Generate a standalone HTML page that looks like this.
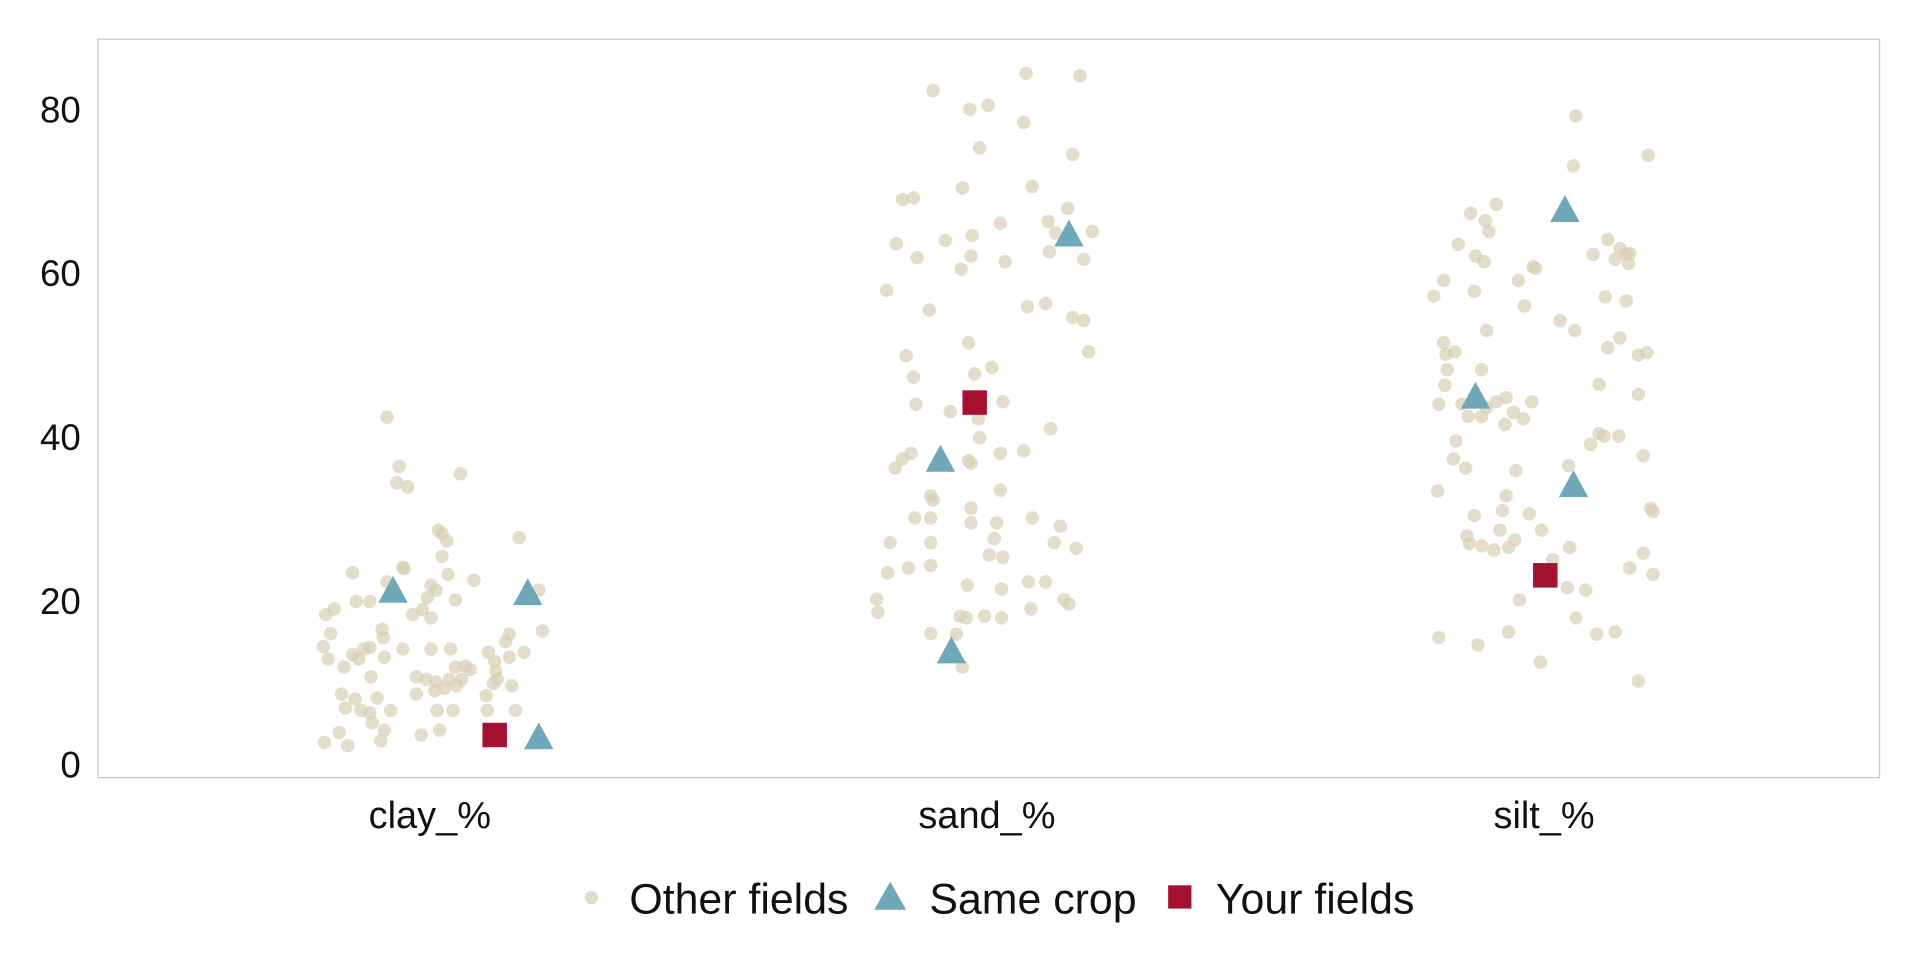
<!DOCTYPE html>
<html><head><meta charset="utf-8"><style>
html,body{margin:0;padding:0;background:#fff;}
svg{display:block;font-family:"Liberation Sans",sans-serif;}
</style></head><body>
<svg id="chart" width="1920" height="960" viewBox="0 0 1568 784" xmlns="http://www.w3.org/2000/svg">
<rect x="80" y="32" width="1455" height="603" fill="#fff" stroke="#c8c8c8" stroke-width="1"/>
<g id="yaxis"></g>
<g id="xaxis"></g>
<g id="marks"></g>
<g>
  <g>
    <circle cx="483" cy="733" r="5.5" fill="#d9cfb3" opacity="0.7"/>
    <text x="514" y="746" font-size="35" fill="#111">Other fields</text>
  </g>
  <g>
    <polygon points="727,720 740,743 714,743" fill="#6fa8b8"/>
    <text x="759" y="746" font-size="35" fill="#111">Same crop</text>
  </g>
  <g>
    <rect x="954" y="723" width="19" height="19" fill="#a51230"/>
    <text x="993" y="746" font-size="35" fill="#111">Your fields</text>
  </g>
</g>
</svg>
<script>
const categories = ["clay_%","sand_%","silt_%"];
const yTicks = [0,20,40,60,80];
// [jitter offset, value]
const otherClay = [[-85,18.4],[-78,19.1],[-81,16.1],[-87,14.5],[-83,13],[-70,12],[-63,13.5],[-58,13],[-54,14.2],[-49,14.4],[-38,15.6],[-39,16.6],[-60,20],[-49,20],[-35,22.4],[-21,24],[-14,18.4],[-6,19],[1,18],[-2,20.5],[5,21.4],[1,22],[21,20.2],[17,14.2],[1,14.2],[-22,14.2],[-37,13.2],[-48,10.8],[-72,8.7],[-61,8.1],[-43,8.2],[-69,7],[-56,6.7],[-49,6.4],[-32,6.7],[-47,5.2],[-37,4.3],[-74,4],[-86,2.8],[-67,2.4],[-40,3],[-7,3.7],[8,4.3],[-11,8.7],[6,6.7],[19,6.7],[22,9.7],[-11,10.8],[-3,10.5],[5,10.2],[12,9.4],[16,10.5],[26,10.5],[29,12.1],[33,11.7],[21,12],[4,9.1],[54,11.5],[52,10],[55,10.5],[47,6.7],[46,8.5],[67,9.7],[70,6.7],[48,13.8],[62,15.1],[65,16],[77,13.8],[92,16.4],[89,21.4],[65,13.2],[53,12.7],[-35,42.5],[-25,36.5],[-27,34.5],[-18,34],[25,35.6],[7,28.7],[10,28.3],[14,27.4],[73,27.8],[-22,24.2],[10,25.5],[15,23.3],[-63,23.5],[36,22.6]];
const otherSand = [[32,84.5],[76,84.2],[-44,82.4],[1,80.6],[-14,80.1],[30,78.5],[-6,75.4],[70,74.6],[-20,70.5],[37,70.7],[-69,69.1],[-60,69.3],[11,66.2],[50,66.4],[66,68],[86,65.2],[-74,63.7],[-34,64.1],[-12,64.7],[56,65],[51,62.7],[-57,62],[-13,62.2],[15,61.5],[79,61.8],[-21,60.6],[-82,58],[-47,55.6],[33,56],[48,56.4],[70,54.7],[79,54.3],[-66,50],[-15,51.6],[83,50.5],[-60,47.4],[-10,47.8],[4,48.6],[-58,44.1],[13,44.4],[-30,43.2],[-7,42.3],[52,41.1],[-6,40],[-62,38.1],[-69,37.4],[-75,36.3],[11,38.1],[30,38.4],[-15,37.2],[-13,36.9],[11,33.6],[-46,32.9],[-44,32.4],[-13,31.4],[-59,30.2],[-46,30.2],[37,30.2],[-13,29.6],[8,29.6],[60,29.2],[-79,27.2],[-46,27.2],[6,27.7],[55,27.2],[73,26.5],[2,25.7],[13,25.4],[-64,24.1],[-46,24.4],[-81,23.5],[-16,22],[12,21.5],[34,22.4],[48,22.4],[63,20.2],[67,19.7],[-90,20.3],[-89,18.7],[-22,18.2],[-17,18],[-2,18.2],[12,18],[36,19.1],[-25,16],[-20,12],[-46,16.1]];
const otherSilt = [[26,79.3],[85,74.5],[24,73.2],[-39,68.5],[-60,67.4],[-48,66.5],[-45,65.2],[-70,63.6],[-56,62.2],[-49,61.5],[-82,59.2],[-57,57.9],[-90,57.3],[-7,60.7],[-9,60.9],[-21,59.2],[40,62.4],[52,64.2],[62,63.1],[67,62.4],[70,62.5],[58,61.8],[69,61.3],[-16,56.1],[50,57.2],[67,56.7],[13,54.3],[25,53.1],[-47,53.1],[-82,51.6],[-80,50.2],[-73,50.5],[62,52.2],[52,51],[77,50.1],[84,50.4],[-79,48.3],[-51,48.3],[-81,46.4],[45,46.5],[-86,44.1],[-67,44.1],[-31,44.9],[-39,44.4],[-10,44.4],[-47,43.7],[-62,42.6],[-51,42.6],[-25,43.1],[-17,42.3],[-32,41.6],[77,45.3],[45,40.5],[49,40.2],[38,39.2],[61,40.2],[-72,39.6],[-74,37.4],[-64,36.3],[-23,36],[20,36.6],[81,37.8],[-87,33.5],[-31,32.9],[-34,31.1],[-12,30.7],[-57,30.5],[87,31.4],[89,31],[-36,28.7],[-2,28.7],[-24,27.5],[-63,28],[-61,27.1],[-51,26.8],[-41,26.3],[-29,26.6],[21,26.6],[81,25.9],[70,24.1],[89,23.3],[19,21.7],[34,21.4],[7,25.1],[-20,20.2],[26,18],[-86,15.6],[-54,14.7],[-29,16.3],[43,16],[58,16.3],[-3,12.6],[77,10.3]];
const sameClay = [[-30,21.2],[80,20.9],[89,3.3]];
const sameSand = [[-38,37.2],[-29,13.8],[67,64.7]];
const sameSilt = [[-56,44.9],[17,67.7],[24,34.1]];
const yourClay = [[53,3.7]];
const yourSand = [[-10,44.3]];
const yourSilt = [[1,23.2]];

const NS="http://www.w3.org/2000/svg";
function xScale(i, off){ return 351 + i*455 + off; }
function yScale(v){ return 625 - v*6.6875; }
function mk(tag, attrs, parent){ const e=document.createElementNS(NS,tag); for(const k in attrs) e.setAttribute(k,attrs[k]); parent.appendChild(e); return e; }

const yaxis=document.getElementById('yaxis');
yTicks.forEach(t=>{
  const tx=mk('text',{x:66,y:yScale(t)+10,'text-anchor':'end','font-size':30,fill:'#111'},yaxis);
  tx.textContent=t;
  
  
});
const xaxis=document.getElementById('xaxis');
categories.forEach((c,i)=>{
  const tx=mk('text',{x:xScale(i,0),y:676,'text-anchor':'middle','font-size':31,fill:'#111'},xaxis);
  tx.textContent=c;
  
  
});
const marks=document.getElementById('marks');
[otherClay,otherSand,otherSilt].forEach((arr,i)=>{
  arr.forEach(p=>{
    const c=mk('circle',{cx:xScale(i,p[0]),cy:yScale(p[1]),r:5.5,fill:'#d9cfb3','fill-opacity':0.7},marks);
    
    
  });
});
[sameClay,sameSand,sameSilt].forEach((arr,i)=>{
  arr.forEach(p=>{
    const x=xScale(i,p[0]), y=yScale(p[1]);
    const t=mk('polygon',{points:`${x},${y-13} ${x+12},${y+9} ${x-12},${y+9}`,fill:'#6fa8b8'},marks);
    
    
  });
});
[yourClay,yourSand,yourSilt].forEach((arr,i)=>{
  arr.forEach(p=>{
    const x=xScale(i,p[0]), y=yScale(p[1]);
    const r=mk('rect',{x:x-10,y:y-10,width:20,height:20,fill:'#a51230'},marks);
    
    
  });
});
</script>
</body></html>
